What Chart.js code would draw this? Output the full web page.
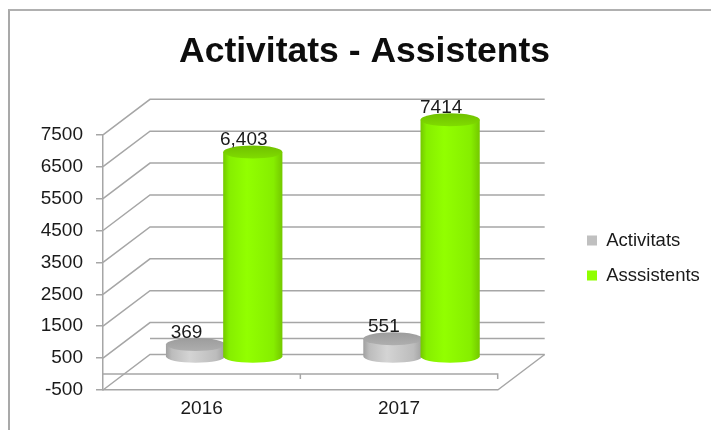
<!DOCTYPE html>
<html>
<head>
<meta charset="utf-8">
<title>Activitats - Assistents</title>
<script src="https://cdn.jsdelivr.net/npm/chart.js@4"></script>
<style>
html, body { margin: 0; padding: 0; background: #fff; }
#frame { position: absolute; left: 8px; top: 9px; width: 703px; height: 421px; box-sizing: border-box; border-left: 2px solid #a9a9a9; border-top: 2px solid #b0b0b0; }
#wrap { position: absolute; left: 0; top: 0; width: 711px; height: 430px; }
</style>
</head>
<body>
<div id="frame"></div>
<div id="wrap"><canvas id="chart" width="711" height="430"></canvas></div>
<script>
const categories = ['2016', '2017']
const activitats = [369, 551]
const assistents = [6403, 7414]
const activitatsLabels = ['369', '551']
const assistentsLabels = ['6,403', '7414']
const yTicks = [-500, 500, 1500, 2500, 3500, 4500, 5500, 6500, 7500]

const gridColor = '#a6a6a6'
const depthX = 47
const depthY = 35.5
const capRy = 6.5
const barShiftX = 22.5

// walls and floor of the fake 3d box, all placed from the chart's own scales
const box3d = {
	id: 'box3d',
	afterLayout(chart) {
		// legend sits well right of the plot, the box needs that room
		const legend = chart.legend
		legend.left = 570.5
		legend.right = 711
		legend.top = 0
		legend.bottom = 516
		// title is centred over the plot, not the page
		chart.titleBlock.left = 18
		chart.titleBlock.right = 711
	},
	beforeDatasetsDraw(chart) {
		const {ctx, chartArea, scales} = chart
		const y = scales.y
		ctx.save()
		ctx.strokeStyle = gridColor
		ctx.lineWidth = 1.5
		const left = chartArea.left
		const right = chartArea.right
		yTicks.forEach(v => {
			const py = y.getPixelForValue(v)
			ctx.beginPath()
			ctx.moveTo(left, py)
			ctx.lineTo(left + depthX, py - depthY)
			ctx.lineTo(right + depthX, py - depthY)
			ctx.stroke()
		})
		// floor, front edge and the zero line
		const bottom = y.getPixelForValue(yTicks[0])
		const zero = y.getPixelForValue(0)
		ctx.beginPath()
		ctx.moveTo(right, bottom)
		ctx.lineTo(right + depthX, bottom - depthY)
		ctx.moveTo(left + depthX, zero - depthY)
		ctx.lineTo(right + depthX, zero - depthY)
		ctx.moveTo(left, zero)
		ctx.lineTo(right, zero)
		ctx.lineTo(right, zero + 5)
		const mid = (scales.x.getPixelForValue(0) + scales.x.getPixelForValue(1)) / 2
		ctx.moveTo(mid, zero)
		ctx.lineTo(mid, zero + 5)
		ctx.stroke()
		ctx.restore()
	},
	// native flat bars are skipped, the cylinders replace them
	beforeDatasetDraw() {
		return false
	},
	afterDatasetsDraw(chart) {
		const {ctx} = chart
		chart.data.datasets.forEach((dataset, index) => {
			chart.getDatasetMeta(index).data.forEach((bar, i) => {
				drawCylinder(ctx, bar, dataset.shades)
				const cx = bar.x + barShiftX
				ctx.save()
				ctx.fillStyle = '#1a1a1a'
				ctx.font = '19px "Liberation Sans"'
				ctx.textAlign = 'center'
				ctx.textBaseline = 'middle'
				ctx.fillText(dataset.valueLabels[i], cx - 9, bar.y - depthY / 2 - 12)
				ctx.restore()
			})
		})
	}
}

function drawCylinder(ctx, bar, shades) {
	const cx = bar.x + barShiftX
	const rx = bar.width / 2 + 1
	const top = bar.y - depthY / 2
	const base = bar.base - depthY / 2
	const side = ctx.createLinearGradient(cx - rx, 0, cx + rx, 0)
	side.addColorStop(0, shades.edge)
	side.addColorStop(0.1, shades.mid)
	side.addColorStop(0.4, shades.light)
	side.addColorStop(0.85, shades.mid)
	side.addColorStop(1, shades.edge)
	ctx.save()
	ctx.beginPath()
	ctx.moveTo(cx - rx, top)
	ctx.lineTo(cx - rx, base)
	ctx.ellipse(cx, base, rx, capRy, 0, Math.PI, 0, true)
	ctx.lineTo(cx + rx, top)
	ctx.closePath()
	ctx.fillStyle = side
	ctx.fill()
	const cap = ctx.createLinearGradient(0, top - capRy, 0, top + capRy)
	cap.addColorStop(0, shades.capDark)
	cap.addColorStop(1, shades.cap)
	ctx.beginPath()
	ctx.ellipse(cx, top, rx, capRy, 0, 0, Math.PI * 2)
	ctx.fillStyle = cap
	ctx.fill()
	ctx.restore()
}

new Chart(document.getElementById('chart'), {
	type: 'bar',
	data: {
		labels: categories,
		datasets: [
			{
				label: 'Activitats',
				data: activitats,
				valueLabels: activitatsLabels,
				backgroundColor: '#c0c0c0',
				shades: {edge: '#a0a0a0', mid: '#bcbcbc', light: '#d4d4d4', cap: '#aeaeae', capDark: '#9c9c9c'}
			},
			{
				label: 'Asssistents',
				data: assistents,
				valueLabels: assistentsLabels,
				backgroundColor: '#8fff00',
				shades: {edge: '#74c800', mid: '#86ee00', light: '#92ff00', cap: '#80dc00', capDark: '#70c000'}
			}
		]
	},
	options: {
		responsive: false,
		animation: false,
		categoryPercentage: 0.58,
		barPercentage: 1,
		layout: {padding: {left: 0, right: 74, top: 0, bottom: 0}},
		scales: {
			x: {
				grid: {display: true, drawOnChartArea: false, drawTicks: false},
				border: {color: gridColor, width: 1.5},
				ticks: {color: '#1a1a1a', font: {family: '"Liberation Sans"', size: 19}, padding: 7},
				afterFit(scale) { scale.height = 40 }
			},
			y: {
				min: -500,
				max: 7500,
				afterBuildTicks(scale) { scale.ticks = yTicks.map(value => ({value})) },
				grid: {drawOnChartArea: false, color: gridColor, lineWidth: 1.5, tickLength: 7},
				border: {color: gridColor, width: 1.5},
				ticks: {
					color: '#1a1a1a',
					font: {family: '"Liberation Sans"', size: 19},
					padding: 13,
					autoSkip: false,
					callback: v => String(v)
				},
				afterFit(scale) { scale.width = 103 }
			}
		},
		plugins: {
			title: {
				display: true,
				text: 'Activitats - Assistents',
				color: '#0d0d0d',
				font: {family: '"Liberation Sans"', size: 35.5, weight: 'bold'},
				padding: {top: 30.7, bottom: 61.5}
			},
			legend: {
				position: 'right',
				labels: {
					color: '#1a1a1a',
					font: {family: '"Liberation Sans"', size: 18.5},
					boxWidth: 10,
					boxHeight: 10,
					padding: 16.5
				}
			},
			tooltip: {enabled: false}
		}
	},
	plugins: [box3d]
})
</script>
</body>
</html>
